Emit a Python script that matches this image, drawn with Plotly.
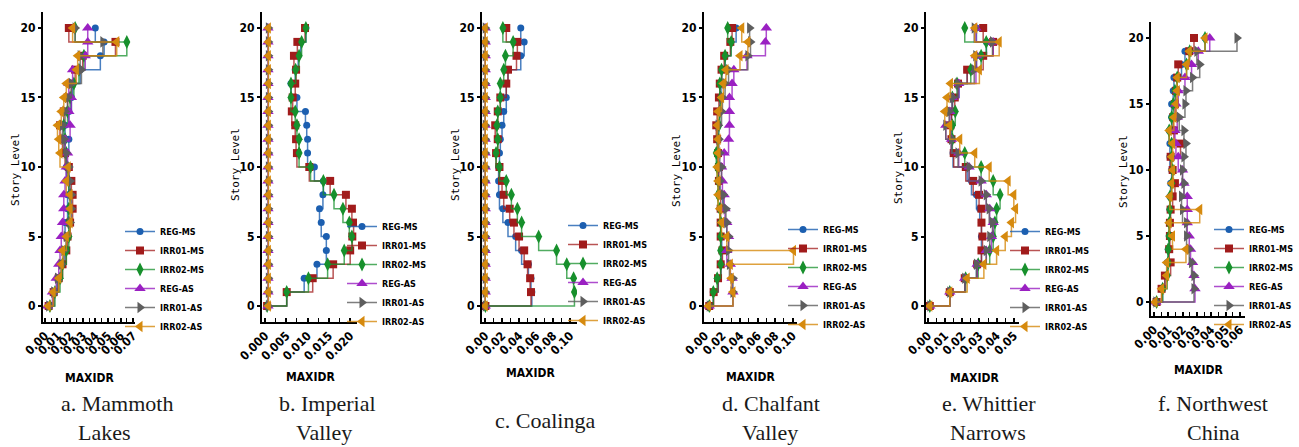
import plotly.graph_objects as go

# ---------------- data ----------------
levels = list(range(21))
series_names = ["REG-MS", "IRR01-MS", "IRR02-MS", "REG-AS", "IRR01-AS", "IRR02-AS"]

# a. Mammoth Lakes
a_reg_ms = [0.003, 0.007, 0.010, 0.013, 0.016, 0.017, 0.016, 0.018, 0.018, 0.019, 0.017, 0.017, 0.019, 0.016, 0.019, 0.021, 0.022, 0.028, 0.044, 0.047, 0.040]
a_irr01_ms = [0.003, 0.007, 0.011, 0.014, 0.017, 0.018, 0.020, 0.022, 0.022, 0.021, 0.019, 0.016, 0.014, 0.012, 0.015, 0.018, 0.021, 0.024, 0.030, 0.056, 0.019]
a_irr02_ms = [0.004, 0.008, 0.012, 0.014, 0.017, 0.019, 0.019, 0.019, 0.020, 0.019, 0.018, 0.017, 0.016, 0.015, 0.018, 0.020, 0.023, 0.027, 0.031, 0.065, 0.024]
a_reg_as = [0.002, 0.006, 0.009, 0.011, 0.012, 0.013, 0.014, 0.015, 0.015, 0.016, 0.017, 0.018, 0.016, 0.020, 0.019, 0.021, 0.019, 0.022, 0.032, 0.034, 0.034]
a_irr01_as = [0.003, 0.007, 0.010, 0.013, 0.015, 0.017, 0.020, 0.021, 0.021, 0.020, 0.019, 0.017, 0.015, 0.014, 0.016, 0.018, 0.021, 0.029, 0.028, 0.046, 0.024]
a_irr02_as = [0.0026, 0.0066, 0.011, 0.013, 0.014, 0.017, 0.020, 0.020, 0.020, 0.017, 0.0185, 0.012, 0.011, 0.010, 0.013, 0.015, 0.017, 0.025, 0.026, 0.057, 0.022]

# b. Imperial Valley
b_reg_ms = [0.0005, 0.0051, 0.0092, 0.0122, 0.0144, 0.0144, 0.0132, 0.0128, 0.0136, 0.0137, 0.0116, 0.0100, 0.0100, 0.0098, 0.0095, 0.0075, 0.0061, 0.0071, 0.0078, 0.0084, 0.0096]
b_irr01_ms = [0.0005, 0.0051, 0.0112, 0.0160, 0.0200, 0.0205, 0.0208, 0.0204, 0.0190, 0.0153, 0.0104, 0.0075, 0.0073, 0.0071, 0.0063, 0.0065, 0.0071, 0.0073, 0.0068, 0.0076, 0.0094]
b_irr02_ms = [0.0005, 0.0051, 0.0102, 0.0147, 0.0186, 0.0204, 0.0198, 0.0183, 0.0162, 0.0137, 0.0107, 0.0080, 0.0080, 0.0075, 0.0071, 0.0061, 0.0061, 0.0072, 0.0080, 0.0086, 0.0096]
b_reg_as = [0.0007, 0.0007, 0.0007, 0.0007, 0.0007, 0.0007, 0.0007, 0.0007, 0.0007, 0.0007, 0.0007, 0.0007, 0.0007, 0.0007, 0.0007, 0.0007, 0.0007, 0.0007, 0.0007, 0.0007, 0.0007]
b_irr01_as = [0.0008, 0.0008, 0.0008, 0.0008, 0.0008, 0.0008, 0.0008, 0.0008, 0.0008, 0.0008, 0.0008, 0.0008, 0.0008, 0.0008, 0.0008, 0.0008, 0.0008, 0.0008, 0.0008, 0.0008, 0.0008]
b_irr02_as = [0.0008, 0.0008, 0.0008, 0.0008, 0.0008, 0.0008, 0.0008, 0.0008, 0.0008, 0.0008, 0.0008, 0.0008, 0.0008, 0.0008, 0.0008, 0.0008, 0.0008, 0.0008, 0.0008, 0.0008, 0.0008]

# c. Coalinga
c_reg_ms = [0.0005, 0.055, 0.054, 0.051, 0.043, 0.036, 0.027, 0.021, 0.017, 0.016, 0.016, 0.017, 0.018, 0.020, 0.022, 0.025, 0.025, 0.027, 0.042, 0.046, 0.042]
c_irr01_ms = [0.0005, 0.054, 0.053, 0.050, 0.046, 0.040, 0.034, 0.029, 0.022, 0.020, 0.017, 0.013, 0.015, 0.012, 0.015, 0.018, 0.025, 0.027, 0.037, 0.038, 0.025]
c_irr02_ms = [0.0005, 0.105, 0.104, 0.096, 0.084, 0.063, 0.043, 0.038, 0.031, 0.025, 0.017, 0.013, 0.015, 0.014, 0.015, 0.018, 0.018, 0.022, 0.024, 0.033, 0.021]
c_reg_as = [0.0003, 0.0003, 0.0003, 0.0003, 0.0003, 0.0003, 0.0003, 0.0003, 0.0003, 0.0003, 0.0003, 0.0003, 0.0003, 0.0003, 0.0003, 0.0003, 0.0003, 0.0003, 0.0003, 0.0003, 0.0003]
c_irr01_as = [0.0003, 0.0003, 0.0003, 0.0003, 0.0003, 0.0003, 0.0003, 0.0003, 0.0003, 0.0003, 0.0003, 0.0003, 0.0003, 0.0003, 0.0003, 0.0003, 0.0003, 0.0003, 0.0003, 0.0003, 0.0003]
c_irr02_as = [0.0003, 0.0003, 0.0003, 0.0003, 0.0003, 0.0003, 0.0003, 0.0003, 0.0003, 0.0003, 0.0003, 0.0003, 0.0003, 0.0003, 0.0003, 0.0003, 0.0003, 0.0003, 0.0003, 0.0003, 0.0003]

# d. Chalfant Valley
d_reg_ms = [0.005, 0.0096, 0.0153, 0.0184, 0.0192, 0.0192, 0.0184, 0.0172, 0.0203, 0.0172, 0.0153, 0.0142, 0.0153, 0.0142, 0.0165, 0.0172, 0.0184, 0.0192, 0.023, 0.0295, 0.0356]
d_irr01_ms = [0.005, 0.010, 0.015, 0.018, 0.020, 0.018, 0.018, 0.018, 0.018, 0.016, 0.016, 0.015, 0.014, 0.013, 0.014, 0.016, 0.017, 0.019, 0.022, 0.029, 0.031]
d_irr02_ms = [0.005, 0.0096, 0.014, 0.018, 0.018, 0.018, 0.018, 0.017, 0.015, 0.015, 0.014, 0.013, 0.015, 0.016, 0.017, 0.018, 0.017, 0.019, 0.023, 0.030, 0.026]
d_reg_as = [0.005, 0.032, 0.031, 0.029, 0.025, 0.027, 0.025, 0.023, 0.022, 0.020, 0.019, 0.022, 0.027, 0.028, 0.028, 0.028, 0.031, 0.033, 0.048, 0.069, 0.070]
d_irr01_as = [0.005, 0.032, 0.032, 0.028, 0.027, 0.027, 0.025, 0.024, 0.021, 0.017, 0.019, 0.017, 0.016, 0.015, 0.019, 0.020, 0.023, 0.027, 0.049, 0.052, 0.051]
d_irr02_as = [0.004, 0.032, 0.030, 0.029, 0.101, 0.025, 0.019, 0.017, 0.015, 0.015, 0.014, 0.015, 0.015, 0.014, 0.015, 0.019, 0.021, 0.024, 0.040, 0.049, 0.042]

# e. Whittier Narrows
e_reg_ms = [0.0012, 0.0128, 0.0215, 0.0283, 0.0312, 0.0312, 0.0312, 0.0302, 0.0283, 0.0254, 0.0229, 0.0147, 0.0138, 0.0138, 0.0138, 0.0143, 0.0182, 0.0229, 0.0283, 0.0341, 0.0283]
e_irr01_ms = [0.0012, 0.0128, 0.0215, 0.0287, 0.0312, 0.0318, 0.0312, 0.0312, 0.0298, 0.0264, 0.0221, 0.0151, 0.0138, 0.0132, 0.0138, 0.0157, 0.0176, 0.0229, 0.0322, 0.0380, 0.0322]
e_irr02_ms = [0.0012, 0.0128, 0.0220, 0.0293, 0.0360, 0.0380, 0.0390, 0.0400, 0.0420, 0.0380, 0.0310, 0.0215, 0.0143, 0.0143, 0.0160, 0.0143, 0.0170, 0.0250, 0.0310, 0.0340, 0.0215]
e_reg_as = [0.0012, 0.0128, 0.0215, 0.0287, 0.0340, 0.0370, 0.0380, 0.0360, 0.0340, 0.0310, 0.0240, 0.0180, 0.0138, 0.0105, 0.0128, 0.0143, 0.0180, 0.0280, 0.0283, 0.0380, 0.0280]
e_irr01_as = [0.0012, 0.0128, 0.0215, 0.0283, 0.0340, 0.0360, 0.0376, 0.0357, 0.0340, 0.0310, 0.0240, 0.0176, 0.0138, 0.0105, 0.0124, 0.0143, 0.0176, 0.0270, 0.0279, 0.0376, 0.0270]
e_irr02_as = [0.0012, 0.0128, 0.0229, 0.0326, 0.0400, 0.0450, 0.0486, 0.0510, 0.0500, 0.0467, 0.0357, 0.0273, 0.0186, 0.0128, 0.0099, 0.0112, 0.0132, 0.0300, 0.0273, 0.0415, 0.0273]

# f. Northwest China
f_reg_ms = [0.0019, 0.0061, 0.0077, 0.0093, 0.0100, 0.0107, 0.0107, 0.0112, 0.0112, 0.0117, 0.0124, 0.0112, 0.0112, 0.0107, 0.0124, 0.0124, 0.0135, 0.0140, 0.0193, 0.0217, 0.0357]
f_irr01_ms = [0.0019, 0.0054, 0.0077, 0.0117, 0.0107, 0.0112, 0.0112, 0.0117, 0.0131, 0.0147, 0.0131, 0.0117, 0.0186, 0.0140, 0.0135, 0.0147, 0.0154, 0.0163, 0.0170, 0.0247, 0.0280]
f_irr02_ms = [0.0019, 0.0061, 0.0093, 0.0100, 0.0100, 0.0107, 0.0107, 0.0112, 0.0112, 0.0124, 0.0131, 0.0124, 0.0124, 0.0107, 0.0124, 0.0135, 0.0147, 0.0163, 0.0228, 0.0250, 0.0357]
f_reg_as = [0.0014, 0.0287, 0.0280, 0.0270, 0.0256, 0.0247, 0.0233, 0.0233, 0.0233, 0.0210, 0.0200, 0.0170, 0.0154, 0.0147, 0.0163, 0.0154, 0.0170, 0.0217, 0.0263, 0.0310, 0.0390]
f_irr01_as = [0.0014, 0.0280, 0.0280, 0.0263, 0.0247, 0.0228, 0.0228, 0.0200, 0.0193, 0.0210, 0.0200, 0.0210, 0.0224, 0.0210, 0.0177, 0.0217, 0.0224, 0.0270, 0.0320, 0.0300, 0.0580]
f_irr02_as = [0.0007, 0.0054, 0.0089, 0.0089, 0.0224, 0.0130, 0.0107, 0.0320, 0.0112, 0.0124, 0.0131, 0.0124, 0.0131, 0.0107, 0.0140, 0.0154, 0.0163, 0.0163, 0.0228, 0.0247, 0.0357]

x_tick_step = [0.01, 0.005, 0.02, 0.02, 0.01, 0.01]
x_tick_format = [".2f", ".3f", ".2f", ".2f", ".2f", ".2f"]
y_tick_values = [0, 5, 10, 15, 20]
caption_lines = [["a. Mammoth", "Lakes"], ["b. Imperial", "Valley"], ["c. Coalinga"],
                 ["d. Chalfant", "Valley"], ["e. Whittier", "Narrows"], ["f. Northwest", "China"]]
x_title = "MAXIDR"
y_title = "Story Level"

# ---------------- styling / layout ----------------
W, H = 1299, 447
def px(v): return v / W
def py(v): return 1 - v / H

colors = ["#1c5fb0", "#a11b1b", "#17902c", "#9a20c2", "#5e5e5e", "#d68a0e"]
line_colors = ["rgba(28,95,176,0.8)", "rgba(161,27,27,0.75)", "rgba(23,144,44,0.75)",
               "rgba(154,32,194,0.8)", "rgba(94,94,94,0.8)", "rgba(214,138,14,0.8)"]
symbols = ["circle", "square", "diamond-tall", "triangle-up", "triangle-right", "triangle-left"]
sizes = [7, 8, 10, 10, 10, 10]

panels = [
    [a_reg_ms, a_irr01_ms, a_irr02_ms, a_reg_as, a_irr01_as, a_irr02_as],
    [b_reg_ms, b_irr01_ms, b_irr02_ms, b_reg_as, b_irr01_as, b_irr02_as],
    [c_reg_ms, c_irr01_ms, c_irr02_ms, c_reg_as, c_irr01_as, c_irr02_as],
    [d_reg_ms, d_irr01_ms, d_irr02_ms, d_reg_as, d_irr01_as, d_irr02_as],
    [e_reg_ms, e_irr01_ms, e_irr02_ms, e_reg_as, e_irr01_as, e_irr02_as],
    [f_reg_ms, f_irr01_ms, f_irr02_ms, f_reg_as, f_irr01_as, f_irr02_as],
]

x_dom_px = [(43, 135), (262, 357), (482, 577), (704, 797), (926, 1019), (1151, 1245)]
y_dom_px = [(12, 322)] * 5 + [(22, 316)]
x_ranges = [(-0.0015, 0.0715), (-0.0007, 0.0216), (-0.0035, 0.108),
            (-0.001, 0.105), (-0.001, 0.053), (-0.002, 0.0636)]
y_ranges = [(-1.15, 21.15)] * 5 + [(-1.06, 21.21)]
minor_step = [0.005, 0.0025, 0.01, 0.01, 0.005, 0.005]
legend_pos = [(120, 217), (342, 212), (563, 211), (783, 215), (1005, 217), (1299, 215)]
maxidr_pos = [(89, 378), (310, 377), (530, 373), (750, 377), (974, 378), (1198, 370)]
story_pos = [(15, 170), (235, 165), (455, 165), (676, 170), (898, 168), (1123, 172)]
caption_pos = [[(117, 403), (104, 432)], [(327, 403), (324, 432)], [(545, 420)],
               [(771, 403), (770, 432)], [(989, 403), (988, 432)], [(1213, 403), (1213, 432)]]

cond = "Liberation Sans Narrow, DejaVu Sans Condensed, Arial Narrow, sans-serif"

fig = go.Figure()
layout = dict(width=W, height=H, margin=dict(l=0, r=0, t=0, b=0, autoexpand=False),
              paper_bgcolor="white", plot_bgcolor="white", showlegend=True)
annotations = []

for p in range(6):
    suffix = "" if p == 0 else str(p + 1)
    xa, ya = "x" + suffix, "y" + suffix
    lg = "legend" + suffix
    for s in range(6):
        fig.add_trace(go.Scatter(
            x=panels[p][s], y=levels, name=series_names[s],
            mode="lines+markers", line=dict(shape="hv", color=line_colors[s], width=1.5),
            marker=dict(symbol=symbols[s], size=sizes[s], color=colors[s], line=dict(width=0)),
            xaxis=xa, yaxis=ya, legend=lg))
    x0, x1 = x_dom_px[p]
    yt, yb = y_dom_px[p]
    layout["xaxis" + suffix] = dict(
        domain=[px(x0), px(x1)], anchor=ya, range=list(x_ranges[p]), automargin=False,
        showgrid=False, zeroline=False, showline=True, linecolor="black", linewidth=2.2,
        ticks="inside", ticklen=4, tickwidth=1.5, tickcolor="black",
        dtick=x_tick_step[p], tick0=0, tickformat=x_tick_format[p], tickangle=-45,
        tickfont=dict(family=cond, size=12, color="black", weight="bold"),
        minor=dict(dtick=minor_step[p], ticks="inside", ticklen=4, tickwidth=1.2, tickcolor="black"))
    layout["yaxis" + suffix] = dict(
        domain=[py(yb), py(yt)], anchor=xa, range=list(y_ranges[p]), automargin=False,
        showgrid=False, zeroline=False, showline=True, linecolor="black", linewidth=2.2,
        ticks="outside", ticklen=3, tickwidth=1.5, tickcolor="black",
        tickvals=y_tick_values,
        tickfont=dict(family=cond, size=12, color="black", weight="bold"))
    lx, ly = legend_pos[p]
    layout[lg] = dict(x=px(lx), y=py(ly), xref="paper", yref="paper",
                      xanchor="right" if p == 5 else "left", yanchor="top",
                      bgcolor="rgba(0,0,0,0)", borderwidth=0, tracegroupgap=0,
                      itemwidth=30,
                      font=dict(family=cond, size=9, color="black", weight="bold"))
    mx, my = maxidr_pos[p]
    annotations.append(dict(x=px(mx), y=py(my), xref="paper", yref="paper", text=x_title,
                            showarrow=False, xanchor="center", yanchor="middle",
                            font=dict(family=cond, size=12, color="black", weight="bold")))
    sx, sy = story_pos[p]
    annotations.append(dict(x=px(sx), y=py(sy), xref="paper", yref="paper", text=y_title,
                            showarrow=False, xanchor="center", yanchor="middle", textangle=-90,
                            font=dict(family="DejaVu Sans Mono, monospace", size=11, color="black")))
    for line_txt, (cx, cy) in zip(caption_lines[p], caption_pos[p]):
        annotations.append(dict(x=px(cx), y=py(cy), xref="paper", yref="paper", text=line_txt,
                                showarrow=False, xanchor="center", yanchor="middle",
                                font=dict(family="Liberation Serif, Times New Roman, serif",
                                          size=22, color="#1a1a1a")))

layout["annotations"] = annotations
fig.update_layout(**layout)
fig.write_html("out.html")
